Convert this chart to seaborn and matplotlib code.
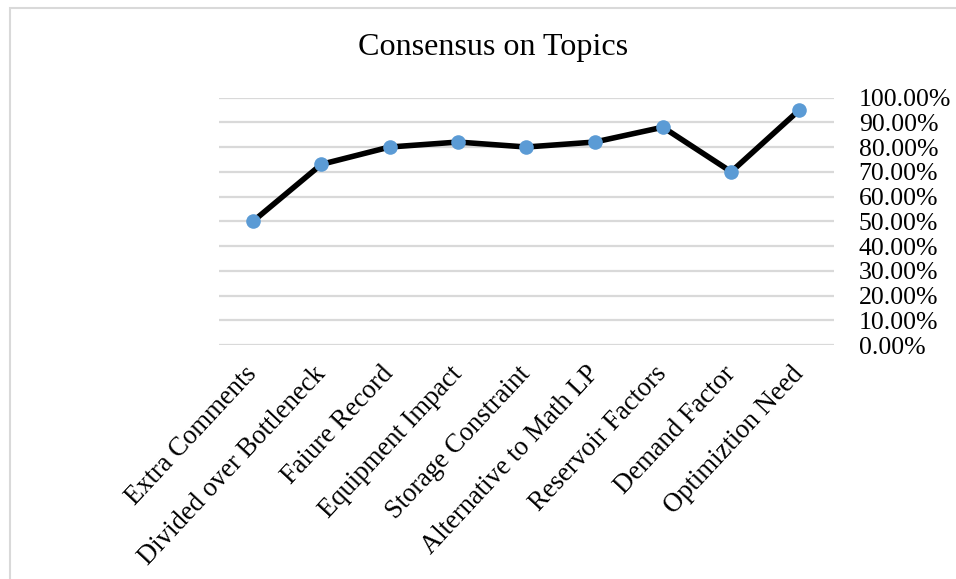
import matplotlib
matplotlib.use("Agg")
import matplotlib.pyplot as plt
import matplotlib.patches as mpatches
from matplotlib.ticker import FuncFormatter, MultipleLocator
import seaborn as sns
import pandas as pd

topics = [
    "Extra Comments",
    "Divided over Bottleneck",
    "Faiure Record",
    "Equipment Impact",
    "Storage Constraint",
    "Alternative to Math LP",
    "Reservoir Factors",
    "Demand Factor",
    "Optimiztion Need",
]
consensus = [0.50, 0.73, 0.80, 0.82, 0.80, 0.82, 0.88, 0.70, 0.95]

df = pd.DataFrame({"topic": topics, "consensus": consensus})

sns.set_theme(style="white")
plt.rcParams["font.family"] = ["Liberation Serif", "DejaVu Serif"]

fig = plt.figure(figsize=(9.56, 5.79), dpi=100)
ax = fig.add_axes([0.229, 0.4041, 0.643, 0.4275])

# outer chart frame
fig.patches.append(mpatches.Rectangle((10 / 956, -0.05), 1.2, 1 - 8 / 579 + 0.05,
                                      transform=fig.transFigure, fill=False,
                                      edgecolor="#d9d9d9", linewidth=1.5, zorder=0))

pos = list(range(len(topics)))
sns.lineplot(x=pos, y=df["consensus"], ax=ax, color="black", linewidth=4.0,
             marker="o", markersize=10.5, markerfacecolor="#5b9bd5",
             markeredgecolor="#5b9bd5", markeredgewidth=0, zorder=3)

ax.set_xlim(-0.5, len(topics) - 0.5)
ax.set_ylim(0, 1.0)
ax.yaxis.set_major_locator(MultipleLocator(0.1))
ax.yaxis.set_major_formatter(FuncFormatter(lambda v, _: f"{v * 100:.2f}%"))
ax.yaxis.tick_right()
ax.grid(axis="y", color="#d9d9d9", linewidth=1.6)
ax.grid(axis="x", visible=False)
for s in ax.spines.values():
    s.set_visible(False)
ax.tick_params(axis="y", length=0, pad=18, labelsize=18.5, labelcolor="black")
ax.tick_params(axis="x", length=0, pad=18)
for lbl in ax.get_yticklabels():
    lbl.set_horizontalalignment("left")

ax.set_xticks(pos)
ax.set_xticklabels(topics, rotation=47, ha="right", va="center",
                   rotation_mode="anchor", fontsize=19.2, color="black")
ax.set_xlabel("")
ax.set_ylabel("")

fig.text(0.516, 1 - 48 / 579, "Consensus on Topics", ha="center", va="center",
         fontsize=23.1, color="black")

fig.savefig("out.png", dpi=100, facecolor="white")
